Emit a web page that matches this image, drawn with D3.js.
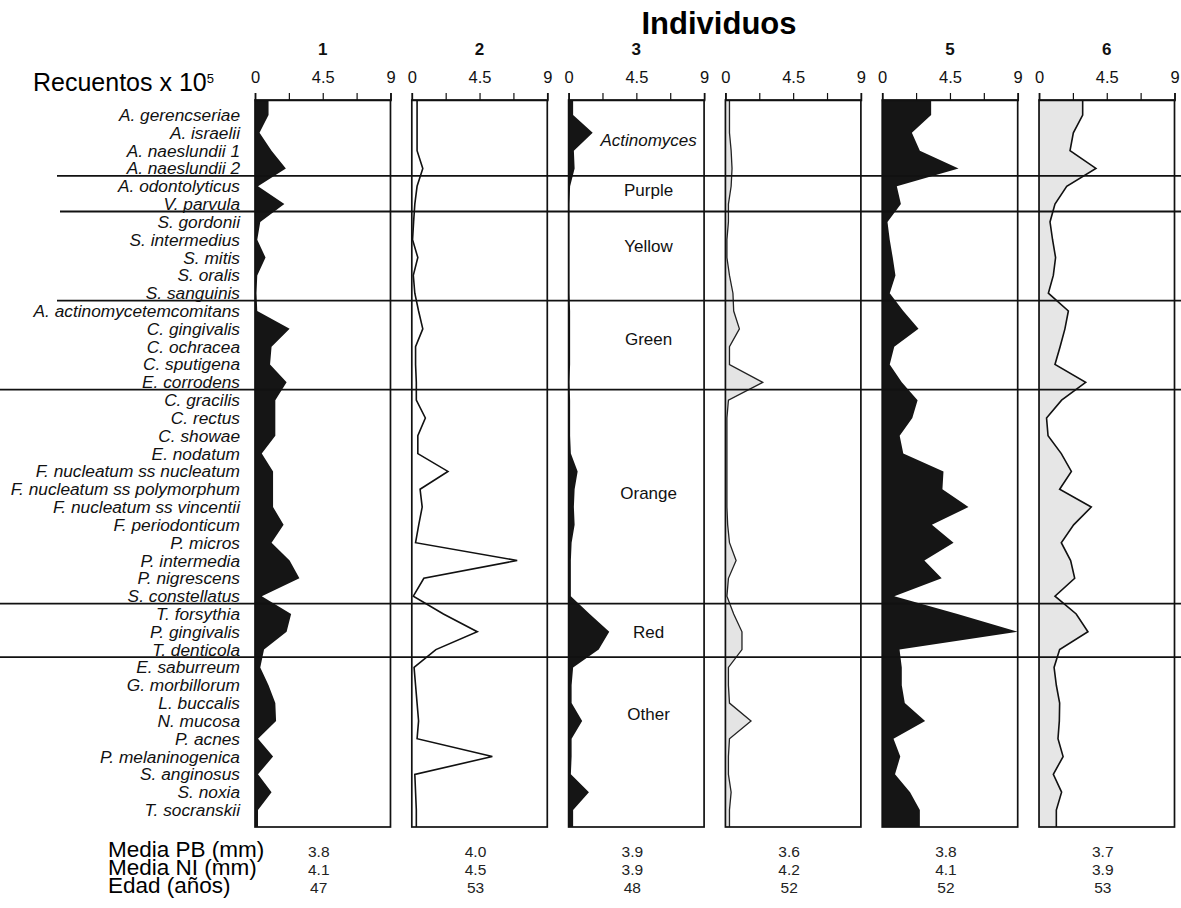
<!DOCTYPE html>
<html>
<head>
<meta charset="utf-8">
<script src="https://cdn.jsdelivr.net/npm/d3@7"></script>
<style>
  html, body { margin: 0; padding: 0; background: #fff; }
  svg { display: block; font-family: "Liberation Sans", Arial, Helvetica, sans-serif; }
</style>
</head>
<body>
<svg id="chart" width="1181" height="908"></svg>
<script>
// ---- data ----
const species = [
  "A. gerencseriae", "A. israelii", "A. naeslundii 1", "A. naeslundii 2",
  "A. odontolyticus", "V. parvula",
  "S. gordonii", "S. intermedius", "S. mitis", "S. oralis", "S. sanguinis",
  "A. actinomycetemcomitans", "C. gingivalis", "C. ochracea", "C. sputigena", "E. corrodens",
  "C. gracilis", "C. rectus", "C. showae", "E. nodatum", "F. nucleatum ss nucleatum",
  "F. nucleatum ss polymorphum", "F. nucleatum ss vincentii", "F. periodonticum",
  "P. micros", "P. intermedia", "P. nigrescens", "S. constellatus",
  "T. forsythia", "P. gingivalis", "T. denticola",
  "E. saburreum", "G. morbillorum", "L. buccalis", "N. mucosa", "P. acnes",
  "P. melaninogenica", "S. anginosus", "S. noxia", "T. socranskii"
];
const groupNames = ["Actinomyces", "Purple", "Yellow", "Green", "Orange", "Red", "Other"];
const groupSizes = [4, 2, 5, 5, 12, 3, 9];

const individuals = ["1", "2", "3", "4", "5", "6"];
const panelTitles = ["1", "2", "3", "", "5", "6"];
const tickValues = [0, 2.25, 4.5, 6.75, 9];
const tickLabels = [0, 4.5, 9];

// counts x 10^5, one value per species, top to bottom
const ind1 = [0.9, 0.3, 1.1, 2.05, 0.2, 1.95, 0.35, 0.15, 0.7, 0.15, 0.1, 0.15, 2.3, 1.1, 1.0, 2.1,
  1.35, 1.35, 1.35, 0.45, 1.2, 1.2, 1.2, 1.9, 1.1, 2.3, 2.95, 0.45, 2.4, 2.1, 0.6,
  0.35, 0.9, 1.35, 1.4, 0.2, 1.2, 0.2, 1.1, 0.2];
const ind2 = [0.35, 0.35, 0.35, 0.73, 0.35, 0.2, 0.12, 0.05, 0.4, 0.1, 0.2, 0.45, 0.73, 0.25, 0.25, 0.3,
  0.3, 0.9, 0.4, 0.4, 2.4, 0.55, 0.69, 0.46, 0.25, 7.0, 0.8, 0.1, 2.1, 4.35, 1.6,
  0.15, 0.25, 0.35, 0.45, 0.35, 5.35, 0.2, 0.25, 0.3];
const ind3 = [0.3, 1.6, 0.35, 0.4, 0.1, 0.05, 0.05, 0.05, 0.05, 0.05, 0.05, 0.1, 0.1, 0.1, 0.1, 0.05,
  0.1, 0.1, 0.1, 0.15, 0.6, 0.4, 0.35, 0.4, 0.2, 0.15, 0.15, 0.15, 1.4, 2.7, 2.0,
  0.3, 0.2, 0.2, 0.9, 0.2, 0.2, 0.15, 1.35, 0.3];
const ind4 = [0.27, 0.27, 0.38, 0.44, 0.38, 0.2, 0.2, 0.1, 0.1, 0.27, 0.5, 0.55, 0.93, 0.27, 0.27, 2.48,
  0.2, 0.1, 0.1, 0.1, 0.1, 0.1, 0.1, 0.15, 0.27, 0.71, 0.2, 0.1, 0.55, 1.1, 1.1,
  0.2, 0.2, 0.27, 1.7, 0.27, 0.2, 0.2, 0.38, 0.27];
const ind5 = [3.25, 1.97, 2.5, 5.07, 0.97, 1.24, 0.35, 0.5, 0.7, 0.88, 0.5, 1.4, 2.41, 0.8, 0.5, 1.3,
  2.35, 2.0, 1.16, 1.4, 4.07, 4.0, 5.73, 3.3, 4.74, 2.8, 3.95, 0.8, 5.0, 9.0, 1.15,
  1.3, 1.3, 1.5, 2.85, 0.75, 1.2, 0.85, 1.85, 2.5];
const ind6 = [2.9, 2.28, 2.06, 3.78, 1.84, 1.06, 0.73, 0.9, 1.1, 0.95, 0.62, 1.95, 1.72, 1.4, 1.06, 3.1,
  1.5, 0.5, 0.6, 1.48, 2.15, 1.37, 3.47, 2.3, 1.48, 2.1, 2.37, 1.06, 2.47, 3.25, 1.37,
  1.0, 1.15, 1.37, 1.35, 1.26, 1.6, 0.95, 1.5, 1.15];

const rowTitles = ["Media PB (mm)", "Media NI (mm)", "Edad (años)"];
const mediaPB = [3.8, 4.0, 3.9, 3.6, 3.8, 3.7];
const mediaNI = [4.1, 4.5, 3.9, 4.2, 4.1, 3.9];
const edad = [47, 53, 48, 52, 52, 53];

// ---- layout ----
const series = [ind1, ind2, ind3, ind4, ind5, ind6];
const plotTop = 100, plotBottom = 827;
const svg = d3.select("#chart");

const band = d3.scaleBand().domain(individuals).range([255, 1174.5]).paddingInner(0.136);
const y = d3.scalePoint().domain(species).range([115, 810]);
const x = d3.scaleLinear().domain([0, 9]).range([0, band.bandwidth()]);

// fill / outline style of each individual's profile
const look = [
  { fill: "#151515", stroke: "none", sw: 0 },
  { fill: "none", stroke: "#111", sw: 1.6 },
  { fill: "#151515", stroke: "none", sw: 0 },
  { fill: "#e4e4e4", stroke: "#222", sw: 1.3 },
  { fill: "#151515", stroke: "none", sw: 0 },
  { fill: "#e6e6e6", stroke: "#111", sw: 1.6 }
];

const area = d3.area().x0(x(0)).x1(d => x(d[0])).y(d => d[1]);
const line = d3.line().x(d => x(d[0])).y(d => d[1]);

individuals.forEach((id, i) => {
  const vals = series[i];
  const g = svg.append("g").attr("transform", `translate(${band(id)},0)`);
  const pts = [[vals[0], plotTop]]
    .concat(species.map((s, j) => [vals[j], y(s)]))
    .concat([[vals[vals.length - 1], plotBottom]]);

  if (look[i].fill !== "none") {
    g.append("path").attr("d", area(pts)).attr("fill", look[i].fill);
  }
  if (look[i].stroke !== "none") {
    g.append("path").attr("d", line(pts)).attr("fill", "none")
      .attr("stroke", look[i].stroke).attr("stroke-width", look[i].sw)
      .attr("stroke-linejoin", "miter");
  }

  // panel frame
  g.append("rect")
    .attr("x", 0).attr("y", plotTop)
    .attr("width", band.bandwidth()).attr("height", plotBottom - plotTop)
    .attr("fill", "none").attr("stroke", "#111").attr("stroke-width", 1.7);

  // count axis on top
  const ax = g.append("g").attr("transform", `translate(0,${plotTop})`)
    .call(d3.axisTop(x).tickValues(tickValues).tickSize(7).tickSizeOuter(7).tickPadding(10)
      .tickFormat(d => tickLabels.includes(d) ? d3.format("~g")(d) : ""));
  ax.attr("font-family", null).attr("font-size", null);
  ax.select(".domain").attr("stroke", "#111").attr("stroke-width", 1.7);
  ax.selectAll(".tick line").attr("stroke", "#111").attr("stroke-width", 1.2);
  ax.selectAll(".tick text").attr("fill", "#111").attr("font-size", 16.5);

  // individual number
  svg.append("text")
    .attr("x", band(id) + band.bandwidth() / 2).attr("y", 55)
    .attr("text-anchor", "middle").attr("font-weight", "bold").attr("font-size", 17)
    .attr("fill", "#111").text(panelTitles[i]);
});

// complex separators
let acc = 0;
const bounds = [];
groupSizes.forEach((n, k) => {
  const first = acc, last = acc + n - 1;
  bounds.push({ name: groupNames[k], first, last });
  acc += n;
});
const lineStart = [57, 60, 57, 0, 0, 0];
bounds.slice(0, -1).forEach((b, k) => {
  const yy = (y(species[b.last]) + y(species[b.last + 1])) / 2 - 1.5;
  svg.append("line")
    .attr("x1", lineStart[k]).attr("x2", 1181).attr("y1", yy).attr("y2", yy)
    .attr("stroke", "#111").attr("stroke-width", 1.8);
});

// complex names inside panel 3
const nudge = [-2, -5, -12, -8, -5, 0, -25];
bounds.forEach((b, k) => {
  const yy = (y(species[b.first]) + y(species[b.last])) / 2 + nudge[k];
  svg.append("text")
    .attr("x", band("3") + 80).attr("y", yy + 6)
    .attr("text-anchor", "middle").attr("font-size", 17).attr("fill", "#111")
    .attr("font-style", k === 0 ? "italic" : "normal")
    .text(b.name);
});

// species names
svg.append("g").selectAll("text").data(species).join("text")
  .attr("x", 240).attr("y", d => y(d) + 6)
  .attr("text-anchor", "end").attr("font-style", "italic").attr("font-size", 17.3)
  .attr("fill", "#111").text(d => d);

// titles
svg.append("text").attr("x", 719).attr("y", 34).attr("text-anchor", "middle")
  .attr("font-weight", "bold").attr("font-size", 31).attr("fill", "#000").text("Individuos");

const rec = svg.append("text").attr("x", 33).attr("y", 91).attr("font-size", 25).attr("fill", "#000");
rec.append("tspan").text("Recuentos x 10");
rec.append("tspan").attr("font-size", 13).attr("dy", -8).text("5");

// summary rows
const rowY = [857, 875, 893];
rowTitles.forEach((t, r) => {
  svg.append("text").attr("x", 108).attr("y", rowY[r]).attr("font-size", 22.5)
    .attr("fill", "#000").text(t);
});
const f1 = d3.format(".1f");
[mediaPB.map(f1), mediaNI.map(f1), edad.map(String)].forEach((row, r) => {
  row.forEach((v, i) => {
    svg.append("text")
      .attr("x", band(individuals[i]) + band.bandwidth() / 2 - 4).attr("y", rowY[r])
      .attr("text-anchor", "middle").attr("font-size", 15.5).attr("fill", "#222").text(v);
  });
});
</script>
</body>
</html>
